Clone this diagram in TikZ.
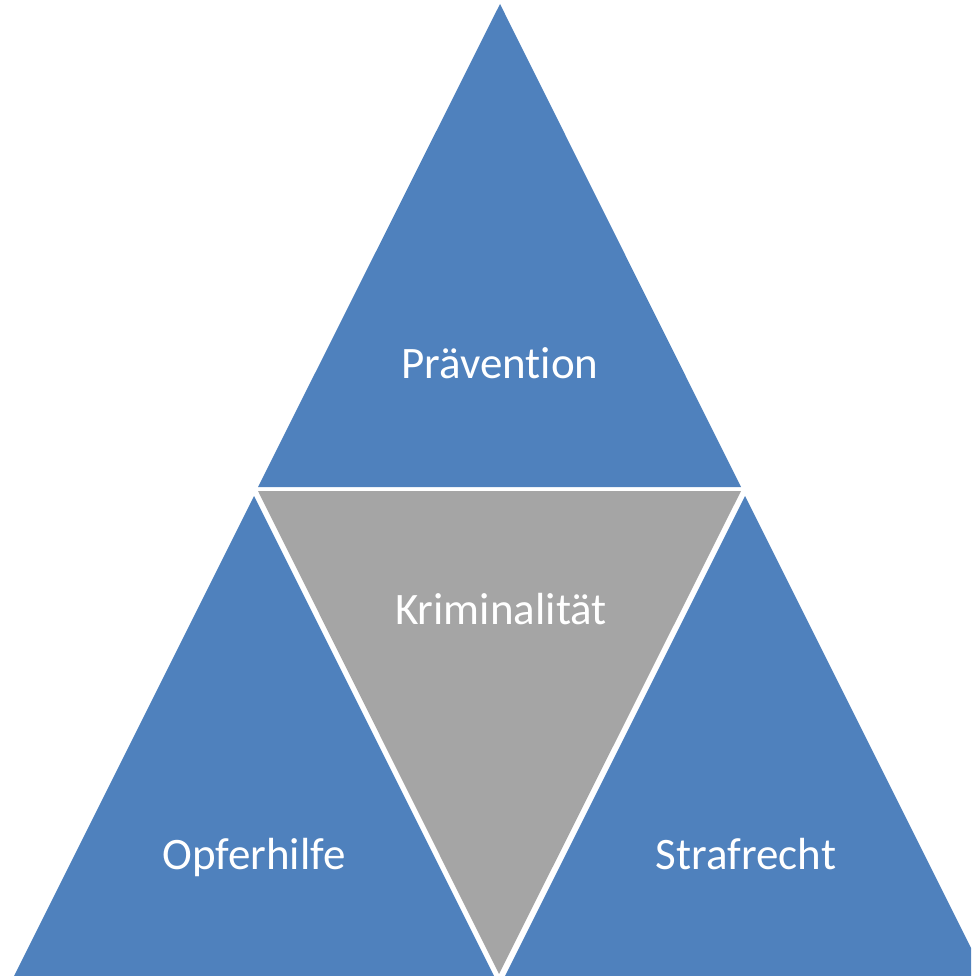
\documentclass[tikz,border=0pt]{standalone}
\usepackage{fontspec}
\setmainfont{Carlito}[Ligatures={NoCommon,NoRare,NoDiscretionary}]
\definecolor{tblue}{HTML}{4F81BD}
\definecolor{tgray}{HTML}{A5A5A5}
\begin{document}
\begin{tikzpicture}[x=1pt,y=-1pt,
  lbl/.style={text=white,font=\fontsize{45}{54}\selectfont,anchor=base,inner sep=0pt}]
\useasboundingbox (0,0) rectangle (971,976);
\clip (0,0) rectangle (971,976);
% top triangle
\coordinate (tA) at (500,4);
\coordinate (tB) at (258,487);
\coordinate (tC) at (741,487);
% centre (inverted) triangle
\coordinate (cA) at (258,491);
\coordinate (cB) at (741,491);
\coordinate (cC) at (499,974);
% left triangle
\coordinate (lA) at (254,496);
\coordinate (lB) at (14,976);
\coordinate (lC) at (494,976);
% right triangle
\coordinate (rA) at (745,496);
\coordinate (rB) at (505,976);
\coordinate (rC) at (985,976);
\fill[tblue] (tA) -- (tB) -- (tC) -- cycle;
\fill[tgray] (cA) -- (cB) -- (cC) -- cycle;
\fill[tblue] (lA) -- (lB) -- (lC) -- cycle;
\fill[tblue] (rA) -- (rB) -- (rC) -- cycle;
\node[lbl] (praev) at (500,378) {Prävention};
\node[lbl] (krim) at (501,624) {Kriminalität};
\node[lbl] (opfer) at (254,869) {Opferhilfe};
\node[lbl] (straf) at (746,869) {Strafrecht};
\end{tikzpicture}
\end{document}
